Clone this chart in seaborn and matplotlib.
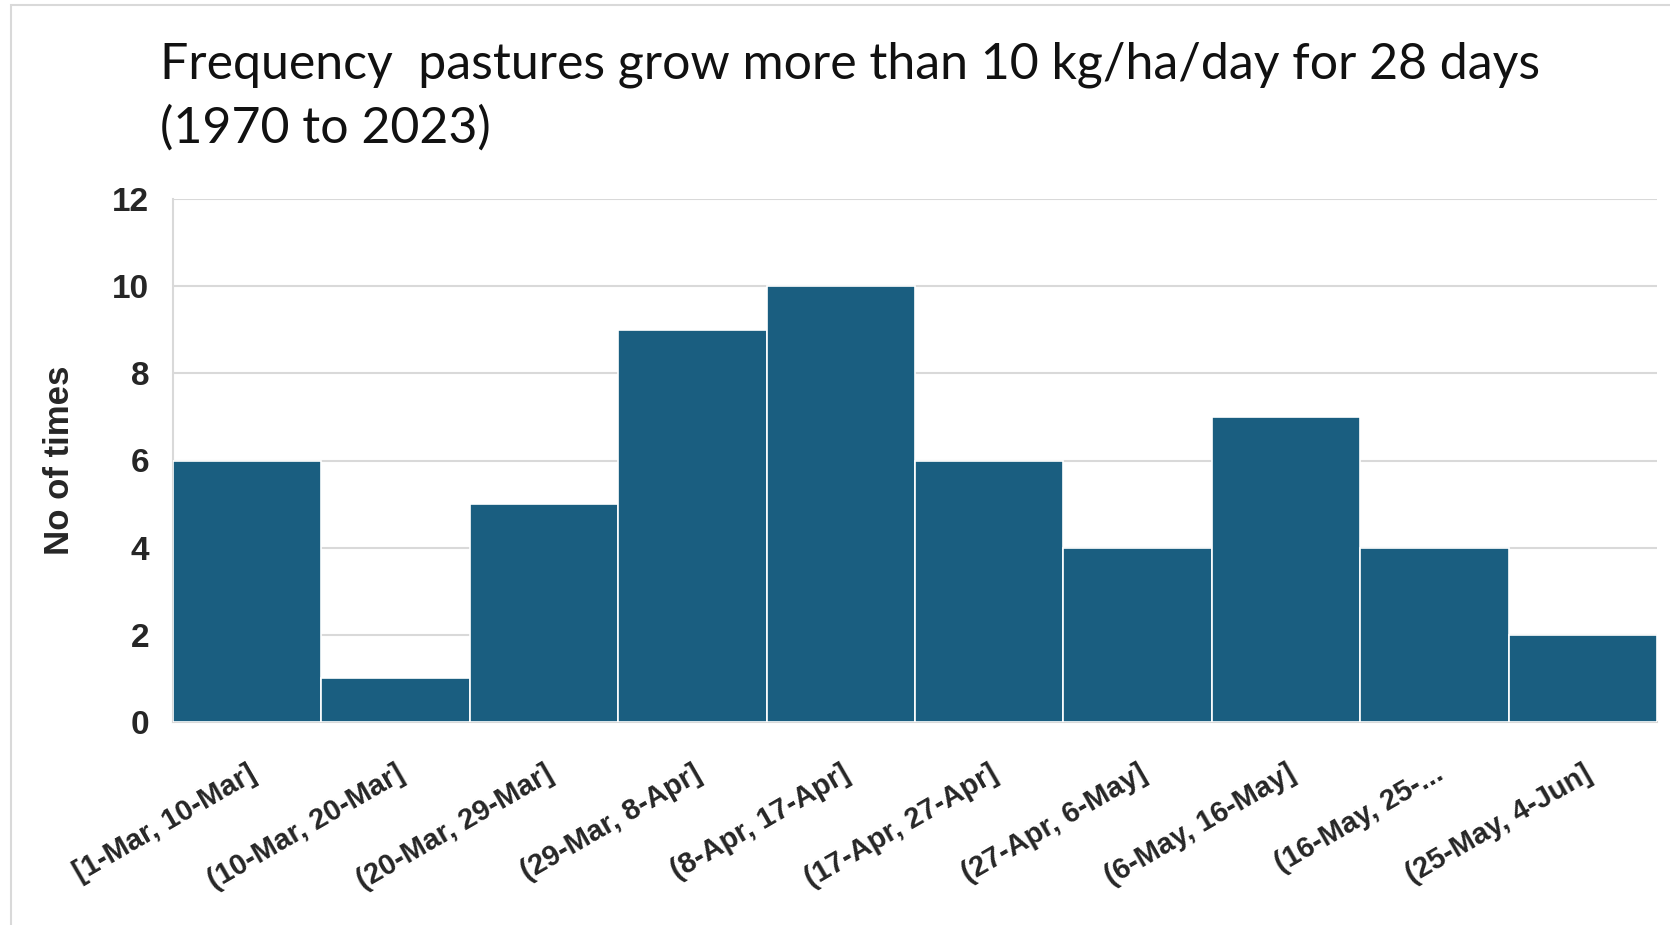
import matplotlib
matplotlib.use("Agg")
import matplotlib.pyplot as plt
from matplotlib.patches import Rectangle
import pandas as pd
import seaborn as sns

# Bins and counts
bins = ["[1-Mar, 10-Mar]", "(10-Mar, 20-Mar]", "(20-Mar, 29-Mar]", "(29-Mar, 8-Apr]",
        "(8-Apr, 17-Apr]", "(17-Apr, 27-Apr]", "(27-Apr, 6-May]", "(6-May, 16-May]",
        "(16-May, 25-...", "(25-May, 4-Jun]"]
counts = [6, 1, 5, 9, 10, 6, 4, 7, 4, 2]
yticks = [0, 2, 4, 6, 8, 10, 12]

df = pd.DataFrame({"bin": bins, "count": counts})

sns.set_style("white")
plt.rcParams["font.family"] = ["Liberation Sans", "DejaVu Sans"]

fig = plt.figure(figsize=(16.7, 9.25), dpi=100)
ax = fig.add_axes([173 / 1670, 1 - 722 / 925, (1657 - 173) / 1670, (722 - 199) / 925])

sns.barplot(data=df, x="bin", y="count", color="#1A5E80", saturation=1, width=1,
            edgecolor="white", linewidth=1.2, ax=ax, zorder=3)

ax.set_ylim(0, 12)
ax.set_xlim(-0.5, len(bins) - 0.5)
ax.set_yticks(yticks)
ax.set_yticklabels([str(t) for t in yticks], fontsize=24, fontweight="bold")
ax.yaxis.grid(True, color="#D9D9D9", linewidth=1.5, zorder=0)
ax.tick_params(axis="y", length=0, pad=17)
ax.tick_params(axis="x", length=0, pad=27)
ax.set_xticks(range(len(bins)))
ax.set_xticklabels(bins, rotation=30, ha="right", rotation_mode="anchor",
                   fontsize=21, fontweight="bold")

ax.set_xlabel("")
ax.set_ylabel("No of times", fontsize=25, fontweight="bold", labelpad=26)
for side in ["top", "right"]:
    ax.spines[side].set_visible(False)
for side in ["left", "bottom"]:
    ax.spines[side].set_color("#D9D9D9")
    ax.spines[side].set_linewidth(1.5)

fig.text(160 / 1670, 1 - 42 / 925,
         "Frequency  pastures grow more than 10 kg/ha/day for 28 days\n(1970 to 2023)",
         fontsize=36, family=["Lato", "DejaVu Sans"], va="top", ha="left",
         linespacing=1.45, color="#111111")

# outer chart frame
fig.patches.append(Rectangle((11 / 1670, -0.5), 2, 1.5 - 5 / 925, transform=fig.transFigure,
                             fill=False, edgecolor="#D9D9D9", linewidth=1.5))

fig.savefig("out.png", dpi=100)
